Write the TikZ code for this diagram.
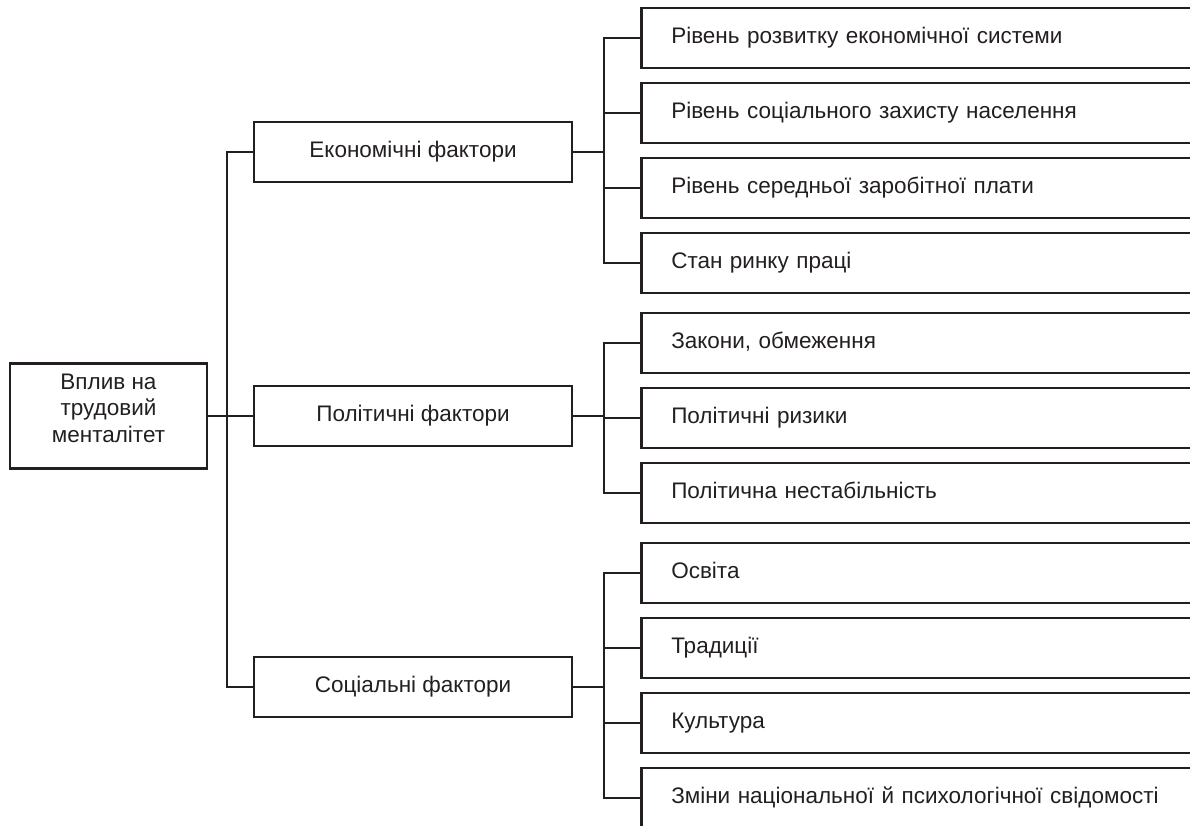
\documentclass[tikz,border=0pt]{standalone}
\usepackage{fontspec}
\setmainfont{Liberation Sans}
\definecolor{ink}{HTML}{231F20}
\begin{document}
\begin{tikzpicture}[x=1pt,y=-1pt,
  txt/.style={text=ink, font=\fontsize{22.5}{26.5}\selectfont},
  box/.style={txt, draw=ink, line width=2.5pt, text height=16pt, text depth=5pt},
  rootbox/.style={txt, draw=ink, line width=2.5pt, minimum width=197pt, minimum height=105pt, align=center, inner sep=0pt},
  mid/.style={box, minimum width=318pt, minimum height=60pt, inner sep=0pt},
  leaf/.style={box, anchor=west, minimum height=60pt, text width=540pt, align=left, inner xsep=30pt, inner ysep=0pt},
  conn/.style={draw=ink, line width=2pt}]
\useasboundingbox (0,0) rectangle (1190,825);
\clip (0,0) rectangle (1190,825);

\node[rootbox] (root) at (108.5,416) {Вплив на\\трудовий\\менталітет\rule[-16pt]{0pt}{16pt}};

\node[mid] (econ) at (413,152) {Економічні фактори};
\node[mid] (polit) at (413,416) {Політичні фактори};
\node[mid] (soc) at (413,687) {Соціальні фактори};

\node[leaf] (e1) at (640,38) {Рівень розвитку економічної системи};
\node[leaf] (e2) at (640,113) {Рівень соціального захисту населення};
\node[leaf] (e3) at (640,188) {Рівень середньої заробітної плати};
\node[leaf] (e4) at (640,263) {Стан ринку праці};

\node[leaf] (p1) at (640,343) {Закони, обмеження};
\node[leaf] (p2) at (640,418) {Політичні ризики};
\node[leaf] (p3) at (640,493) {Політична нестабільність};

\node[leaf] (s1) at (640,573) {Освіта};
\node[leaf] (s2) at (640,648) {Традиції};
\node[leaf] (s3) at (640,723) {Культура};
\node[leaf] (s4) at (640,798) {Зміни національної й психологічної свідомості};

% trunk
\draw[conn] (root.east) -- (polit.west);
\draw[conn] (econ.west) -- ++(-26,0) |- (soc.west);

% economic group
\coordinate (ex) at ([xshift=-36pt]e1.west);
\draw[conn] (econ.east) -- (ex |- econ.east);
\draw[conn] (e1.west) -- (ex) |- (e4.west);
\draw[conn] (ex |- e2.west) -- (e2.west);
\draw[conn] (ex |- e3.west) -- (e3.west);

% political group
\coordinate (px) at ([xshift=-36pt]p1.west);
\draw[conn] (polit.east) -- (px |- polit.east);
\draw[conn] (p1.west) -- (px) |- (p3.west);
\draw[conn] (px |- p2.west) -- (p2.west);

% social group
\coordinate (sx) at ([xshift=-36pt]s1.west);
\draw[conn] (soc.east) -- (sx |- soc.east);
\draw[conn] (s1.west) -- (sx) |- (s4.west);
\draw[conn] (sx |- s2.west) -- (s2.west);
\draw[conn] (sx |- s3.west) -- (s3.west);
\end{tikzpicture}
\end{document}
